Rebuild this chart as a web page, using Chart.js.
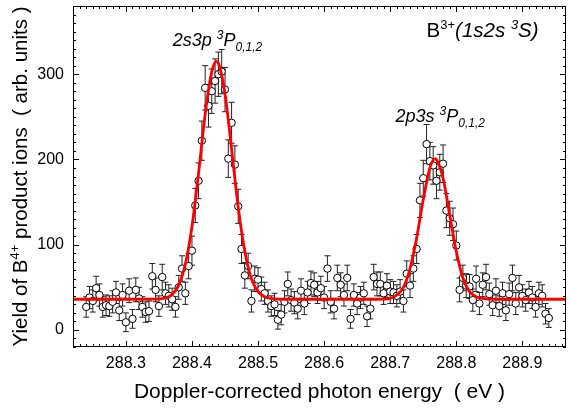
<!DOCTYPE html>
<html>
<head>
<meta charset="utf-8">
<script src="https://cdn.jsdelivr.net/npm/chart.js@4.4.1/dist/chart.umd.min.js"></script>
<style>
  body { margin: 0; background: #fff; }
  #chart { display: block; }
</style>
</head>
<body>
<canvas id="chart" width="571" height="412"></canvas>
<script>
// measured photon energies (eV)
const energy = [
  288.240, 288.245, 288.250, 288.255, 288.260, 288.265, 288.270, 288.275, 288.280, 288.285,
  288.290, 288.295, 288.300, 288.305, 288.310, 288.315, 288.320, 288.325, 288.330, 288.335,
  288.340, 288.345, 288.350, 288.355, 288.360, 288.365, 288.370, 288.375, 288.380, 288.385,
  288.390, 288.395, 288.400, 288.405, 288.410, 288.415, 288.420, 288.425, 288.430, 288.435,
  288.440, 288.445, 288.450, 288.455, 288.460, 288.465, 288.470, 288.475, 288.480, 288.485,
  288.490, 288.495, 288.500, 288.505, 288.510, 288.515, 288.520, 288.525, 288.530, 288.535,
  288.540, 288.545, 288.550, 288.555, 288.560, 288.565, 288.570, 288.575, 288.580, 288.585,
  288.590, 288.595, 288.600, 288.605, 288.610, 288.615, 288.620, 288.625, 288.630, 288.635,
  288.640, 288.645, 288.650, 288.655, 288.660, 288.665, 288.670, 288.675, 288.680, 288.685,
  288.690, 288.695, 288.700, 288.705, 288.710, 288.715, 288.720, 288.725, 288.730, 288.735,
  288.740, 288.745, 288.750, 288.755, 288.760, 288.765, 288.770, 288.775, 288.780, 288.785,
  288.790, 288.795, 288.800, 288.805, 288.810, 288.815, 288.820, 288.825, 288.830, 288.835,
  288.840, 288.845, 288.850, 288.855, 288.860, 288.865, 288.870, 288.875, 288.880, 288.885,
  288.890, 288.895, 288.900, 288.905, 288.910, 288.915, 288.920, 288.925, 288.930, 288.935,
  288.940
];
// yield of B4+ ions (arb. units)
const yieldB4 = [
  27, 38, 34, 49, 41, 27, 29, 28, 33, 44,
  23, 41, 9, 46, 13, 47, 37, 27, 21, 22,
  63, 47, 28, 62, 43, 40, 36, 27, 50, 72,
  43, 75, 93, 146, 175, 222, 284, 263, 280, 292,
  300, 303, 282, 201, 243, 194, 145, 95, 64, 75,
  34, 60, 59, 48, 43, 34, 28, 30, 12, 18,
  33, 54, 35, 32, 25, 46, 31, 44, 55, 53,
  44, 49, 38, 72, 33, 25, 61, 53, 41, 61,
  13, 41, 31, 38, 43, 16, 25, 62, 54, 54,
  43, 52, 45, 44, 40, 45, 34, 66, 52, 72,
  95, 152, 178, 218, 198, 193, 175, 185, 195, 140,
  131, 124, 99, 47, 61, 52, 51, 35, 60, 31,
  53, 62, 42, 29, 46, 28, 43, 23, 42, 61,
  31, 50, 40, 35, 44, 38, 27, 43, 40, 19,
  14
];
// error bar half-lengths
const yieldErr = [
  12, 13, 13, 14, 13, 12, 12, 12, 13, 13,
  12, 13, 11, 14, 11, 14, 13, 12, 12, 12,
  15, 14, 12, 15, 13, 13, 13, 12, 14, 15,
  13, 15, 17, 20, 21, 23, 26, 25, 26, 26,
  26, 26, 26, 22, 24, 22, 20, 17, 15, 15,
  13, 15, 14, 14, 13, 13, 12, 13, 11, 12,
  13, 14, 13, 13, 12, 14, 13, 13, 14, 14,
  13, 14, 13, 15, 13, 12, 15, 14, 13, 15,
  11, 13, 13, 13, 13, 12, 12, 15, 14, 14,
  13, 14, 14, 13, 13, 14, 13, 15, 14, 15,
  17, 20, 21, 23, 22, 22, 21, 21, 22, 20,
  20, 19, 17, 14, 15, 14, 14, 13, 15, 13,
  14, 15, 13, 12, 14, 12, 13, 12, 13, 15,
  13, 14, 13, 13, 13, 13, 12, 13, 13, 12,
  11
];
// fitted curve
const fitEnergy = [
  288.22, 288.30, 288.34, 288.36, 288.37, 288.38, 288.39, 288.40, 288.41, 288.42,
  288.43, 288.437, 288.44, 288.45, 288.46, 288.47, 288.48, 288.49, 288.50, 288.51,
  288.52, 288.54, 288.62, 288.68, 288.70, 288.71, 288.72, 288.73, 288.74, 288.75,
  288.76, 288.768, 288.77, 288.78, 288.79, 288.80, 288.81, 288.82, 288.83, 288.84,
  288.86, 288.97
];
const fitYield = [
  36, 36, 36.1, 37.6, 41.7, 52.6, 77, 121, 184, 253,
  303, 315, 313, 277, 212, 144, 92, 60, 45, 39,
  37, 36, 36, 36, 37, 41, 50, 72, 108, 153,
  190, 201, 200, 178, 135, 92, 61, 45, 39, 37,
  36, 36
];
const xTicks = [288.3, 288.4, 288.5, 288.6, 288.7, 288.8, 288.9];
const yTicks = [0, 100, 200, 300];

const FONT = '"Liberation Sans", Arial, Helvetica, sans-serif';

function drawRuns(ctx, x, y, runs) {
  runs.forEach(r => {
    ctx.font = (r.italic ? 'italic ' : '') + r.size + 'px ' + FONT;
    ctx.fillText(r.t, x, y + (r.dy || 0));
    x += ctx.measureText(r.t).width;
  });
  return x;
}
function runsWidth(ctx, runs) {
  let w = 0;
  runs.forEach(r => {
    ctx.font = (r.italic ? 'italic ' : '') + r.size + 'px ' + FONT;
    w += ctx.measureText(r.t).width;
  });
  return w;
}
function noPad(s) {
  s.paddingTop = 0; s.paddingBottom = 0; s.paddingLeft = 0; s.paddingRight = 0;
}

const errorBars = {
  id: 'errorBars',
  beforeDatasetsDraw(chart) {
    const { ctx, chartArea: a } = chart;
    const xs = chart.scales.x, ys = chart.scales.y;
    ctx.save();
    ctx.beginPath();
    ctx.rect(a.left, a.top, a.right - a.left, a.bottom - a.top);
    ctx.clip();
    ctx.strokeStyle = '#222';
    ctx.lineWidth = 1;
    energy.forEach((e, i) => {
      const px = xs.getPixelForValue(e);
      const top = ys.getPixelForValue(yieldB4[i] + yieldErr[i]);
      const bot = ys.getPixelForValue(yieldB4[i] - yieldErr[i]);
      ctx.beginPath();
      ctx.moveTo(px, top); ctx.lineTo(px, bot);
      ctx.moveTo(px - 3, top); ctx.lineTo(px + 3, top);
      ctx.moveTo(px - 3, bot); ctx.lineTo(px + 3, bot);
      ctx.stroke();
    });
    ctx.restore();
  }
};

const frame = {
  id: 'frame',
  afterDraw(chart) {
    const { ctx, chartArea: a } = chart;
    const xs = chart.scales.x, ys = chart.scales.y;
    ctx.save();
    ctx.strokeStyle = '#000';
    ctx.lineWidth = 1;
    ctx.strokeRect(Math.round(a.left) + 0.5, Math.round(a.top) + 0.5,
      Math.round(a.right - a.left) - 1, Math.round(a.bottom - a.top) - 1);

    // x ticks, minor every 0.01
    ctx.beginPath();
    for (let k = Math.ceil(xs.min * 100); k <= Math.floor(xs.max * 100); k++) {
      const px = Math.round(xs.getPixelForValue(k / 100)) + 0.5;
      const len = k % 10 === 0 ? 6 : 3;
      ctx.moveTo(px, a.bottom); ctx.lineTo(px, a.bottom - len);
      ctx.moveTo(px, a.top); ctx.lineTo(px, a.top + len);
    }
    // y ticks, minor every 10
    for (let v = Math.ceil(ys.min / 10) * 10; v <= ys.max; v += 10) {
      const py = Math.round(ys.getPixelForValue(v)) + 0.5;
      const len = v % 100 === 0 ? 6 : 3;
      ctx.moveTo(a.left, py); ctx.lineTo(a.left + len, py);
      ctx.moveTo(a.right, py); ctx.lineTo(a.right - len, py);
    }
    ctx.stroke();

    ctx.fillStyle = '#000';
    ctx.textBaseline = 'alphabetic';

    // x title
    const xt = [{ t: 'Doppler-corrected photon energy  ( eV )', size: 21 }];
    const xw = runsWidth(ctx, xt);
    drawRuns(ctx, (a.left + a.right) / 2 - xw / 2, 398, xt);

    // y title (rotated)
    const yt = [
      { t: 'Yield of B', size: 20.5 },
      { t: '4+', size: 13, dy: -8 },
      { t: ' product ions  ( arb. units )', size: 20.5 }
    ];
    const yw = runsWidth(ctx, yt);
    ctx.save();
    ctx.translate(27, (a.top + a.bottom) / 2);
    ctx.rotate(-Math.PI / 2);
    drawRuns(ctx, -yw / 2, 0, yt);
    ctx.restore();

    // peak labels
    drawRuns(ctx, xs.getPixelForValue(288.371), ys.getPixelForValue(333), [
      { t: '2s3p ', size: 18, italic: true },
      { t: '3', size: 12, italic: true, dy: -7 },
      { t: 'P', size: 18, italic: true },
      { t: '0,1,2', size: 12, italic: true, dy: 5 }
    ]);
    drawRuns(ctx, xs.getPixelForValue(288.708), ys.getPixelForValue(244), [
      { t: '2p3s ', size: 18, italic: true },
      { t: '3', size: 12, italic: true, dy: -7 },
      { t: 'P', size: 18, italic: true },
      { t: '0,1,2', size: 12, italic: true, dy: 5 }
    ]);
    drawRuns(ctx, xs.getPixelForValue(288.755), ys.getPixelForValue(344), [
      { t: 'B', size: 20.5 },
      { t: '3+', size: 13, dy: -8 },
      { t: '(1s2s ', size: 20.5, italic: true },
      { t: '3', size: 13, italic: true, dy: -8 },
      { t: 'S)', size: 20.5, italic: true }
    ]);
    ctx.restore();
  }
};

new Chart(document.getElementById('chart'), {
  type: 'scatter',
  data: {
    datasets: [
      {
        label: 'fit',
        type: 'line',
        data: fitEnergy.map((x, i) => ({ x: x, y: fitYield[i] })),
        borderColor: '#ff0000',
        borderWidth: 2.8,
        pointRadius: 0,
        fill: false,
        cubicInterpolationMode: 'monotone',
        order: 0
      },
      {
        label: 'data',
        data: energy.map((x, i) => ({ x: x, y: yieldB4[i] })),
        pointRadius: 3.7,
        pointBorderWidth: 1,
        pointBorderColor: '#000',
        pointBackgroundColor: '#fff',
        showLine: false,
        order: 1
      }
    ]
  },
  options: {
    responsive: false,
    devicePixelRatio: 1,
    animation: false,
    layout: { padding: { top: 6, right: 1, left: 0, bottom: 0 } },
    plugins: { legend: { display: false }, tooltip: { enabled: false } },
    scales: {
      x: {
        type: 'linear',
        min: 288.22,
        max: 288.966,
        grid: { display: false, drawTicks: false },
        border: { display: false },
        afterBuildTicks: s => { s.ticks = xTicks.map(v => ({ value: v })); },
        afterFit: s => { s.height = 65; noPad(s); },
        ticks: {
          color: '#000',
          padding: 7,
          maxRotation: 0,
          font: { family: FONT, size: 16 },
          callback: v => v.toFixed(1)
        }
      },
      y: {
        min: -20,
        max: 380,
        grid: { display: false, drawTicks: false },
        border: { display: false },
        afterBuildTicks: s => { s.ticks = yTicks.map(v => ({ value: v })); },
        afterFit: s => { s.width = 73; noPad(s); },
        ticks: {
          color: '#000',
          padding: 9,
          font: { family: FONT, size: 16 }
        }
      }
    }
  },
  plugins: [errorBars, frame]
});
</script>
</body>
</html>
